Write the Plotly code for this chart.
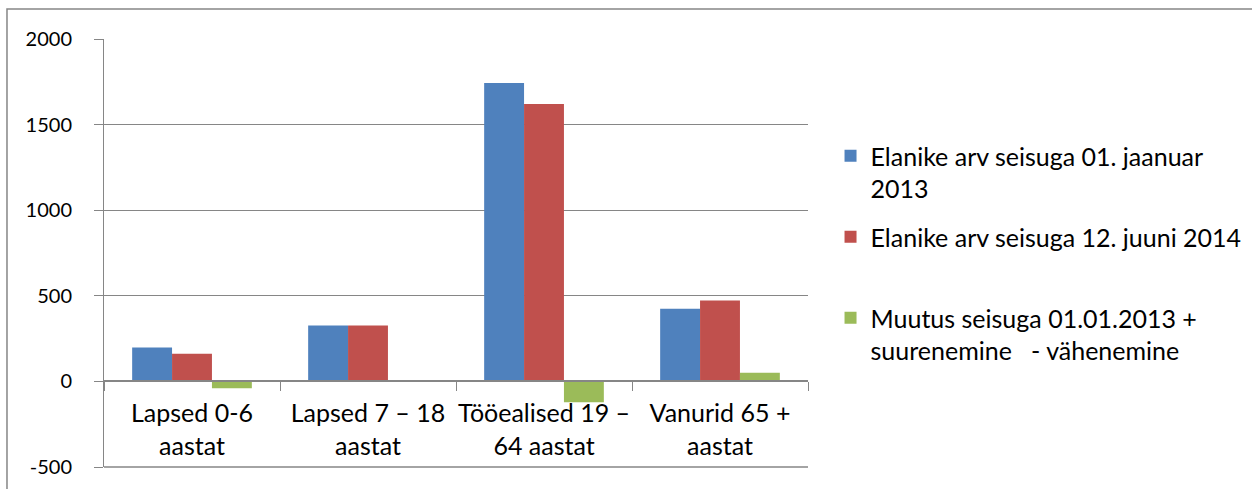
import plotly.graph_objects as go

categories = ["Lapsed 0-6<br>aastat", "Lapsed 7 – 18<br>aastat",
              "Tööealised 19 –<br>64 aastat", "Vanurid 65 +<br>aastat"]
series_names = ["Elanike arv seisuga 01. jaanuar<br>2013",
                "Elanike arv seisuga 12. juuni 2014<br>\u00a0",
                "Muutus seisuga 01.01.2013 +<br>suurenemine   - vähenemine"]
pop_2013 = [198, 327, 1743, 425]
pop_2014 = [162, 327, 1620, 472]
change = [-40, 0, -122, 50]
colors = ["#4F81BD", "#C0504D", "#9BBB59"]
y_ticks = [-500, 0, 500, 1000, 1500, 2000]
y_tick_text = ["-500", "0", "500", "1000", "1500", "2000"]

FONT = "Lato"
fig = go.Figure()
for i, (name, vals) in enumerate(zip(series_names, [pop_2013, pop_2014, change])):
    fig.add_trace(go.Bar(x=categories, y=vals, name=name, marker_color=colors[i],
                         marker_line_width=0, legendgroup=str(i)))

fig.update_layout(
    width=1252, height=489,
    margin=dict(l=104, r=444, t=39, b=22, autoexpand=False),
    plot_bgcolor="white", paper_bgcolor="white",
    barmode="group", bargap=0.32, bargroupgap=0,
    font=dict(family=FONT, size=20, color="#000000"),
    xaxis=dict(anchor="free", position=0.2, automargin=False, tickangle=0,
               showline=True, linecolor="#868686", linewidth=1.5,
               ticks="outside", tickson="boundaries", ticklen=9, tickcolor="#868686",
               showgrid=False, tickfont=dict(size=25), ticklabelstandoff=10),
    yaxis=dict(range=[y_ticks[0], y_ticks[-1]], tickvals=y_ticks, ticktext=y_tick_text,
               showgrid=True, gridcolor="#868686", automargin=False,
               gridwidth=1, showline=True, linecolor="#868686", ticks="outside",
               ticklen=9, tickcolor="#868686", zeroline=False, tickfont=dict(size=20),
               ticklabelstandoff=18, domain=[0, 1]),
    legend=dict(x=1.032, y=0.5, yanchor="middle", xanchor="left", valign="top",
                font=dict(size=25), tracegroupgap=13, traceorder="grouped",
                bgcolor="rgba(0,0,0,0)"),
    showlegend=True,
)
# bottom gridline (at the lower end of the value axis)
fig.add_shape(type="line", xref="paper", yref="paper", x0=0, x1=1, y0=0, y1=0,
              line=dict(color="#868686", width=1.5))
# outer chart border
fig.add_shape(type="rect", xref="paper", yref="paper",
              x0=-0.1378, x1=1.7, y0=-0.2, y1=1.07,
              line=dict(color="#868686", width=1.5), layer="below")
fig.write_html("out.html", config={"displayModeBar": False},
               post_script="document.body.style.margin='0px';")
